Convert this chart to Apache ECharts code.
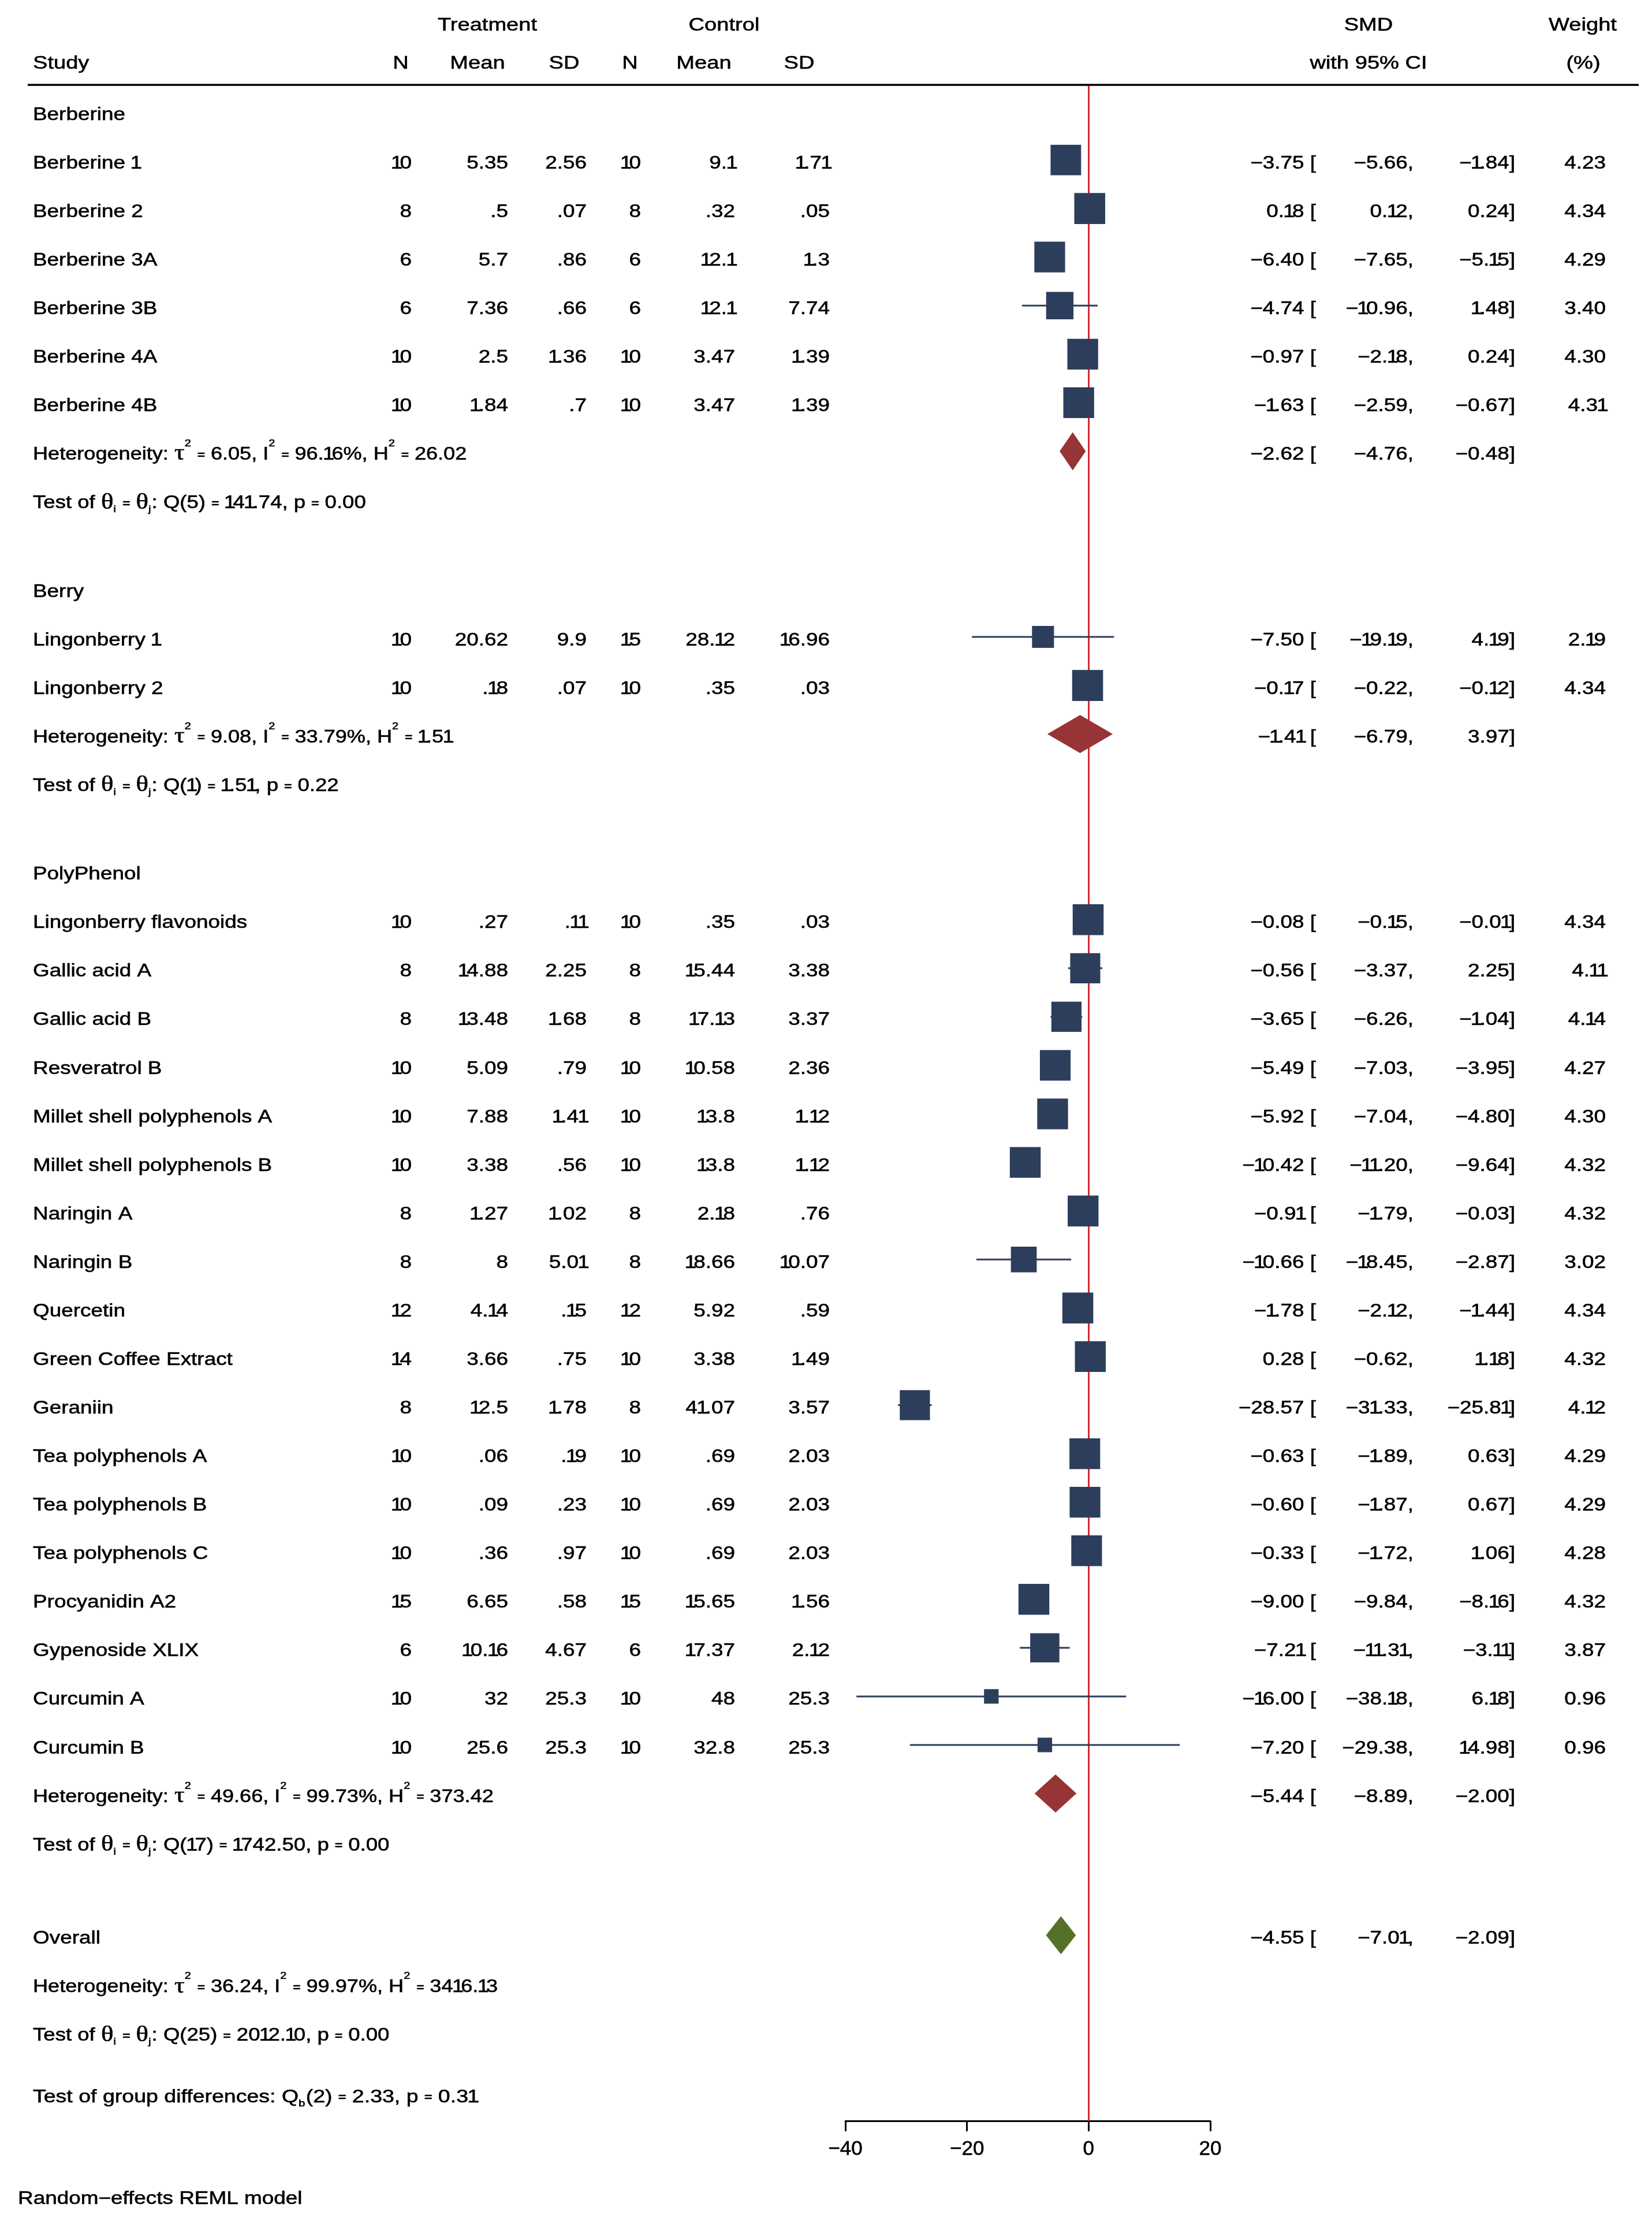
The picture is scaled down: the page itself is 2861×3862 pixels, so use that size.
<!DOCTYPE html>
<html><head><meta charset="utf-8">
<script src="https://cdn.jsdelivr.net/npm/echarts@6/dist/echarts.min.js"></script>
<style>html,body{margin:0;padding:0;background:#fff}#c{width:2861px;height:3862px}</style>
</head><body><div id="c"></div>
<script>
// ---------------- DATA ----------------
const groupNames = ['Berberine', 'Berry', 'PolyPhenol'];
const groupSizes = [6, 2, 18];
const studyNames = ['Berberine 1','Berberine 2','Berberine 3A','Berberine 3B','Berberine 4A','Berberine 4B',
  'Lingonberry 1','Lingonberry 2',
  'Lingonberry flavonoids','Gallic acid A','Gallic acid B','Resveratrol B','Millet shell polyphenols A',
  'Millet shell polyphenols B','Naringin A','Naringin B','Quercetin','Green Coffee Extract','Geraniin',
  'Tea polyphenols A','Tea polyphenols B','Tea polyphenols C','Procyanidin A2','Gypenoside XLIX','Curcumin A','Curcumin B'];
const nT    = [10,8,6,6,10,10, 10,10, 10,8,8,10,10,10,8,8,12,14,8,10,10,10,15,6,10,10];
const meanT = [5.35,0.5,5.7,7.36,2.5,1.84, 20.62,0.18, 0.27,14.88,13.48,5.09,7.88,3.38,1.27,8,4.14,3.66,12.5,0.06,0.09,0.36,6.65,10.16,32,25.6];
const sdT   = [2.56,0.07,0.86,0.66,1.36,0.7, 9.9,0.07, 0.11,2.25,1.68,0.79,1.41,0.56,1.02,5.01,0.15,0.75,1.78,0.19,0.23,0.97,0.58,4.67,25.3,25.3];
const nC    = [10,8,6,6,10,10, 15,10, 10,8,8,10,10,10,8,8,12,10,8,10,10,10,15,6,10,10];
const meanC = [9.1,0.32,12.1,12.1,3.47,3.47, 28.12,0.35, 0.35,15.44,17.13,10.58,13.8,13.8,2.18,18.66,5.92,3.38,41.07,0.69,0.69,0.69,15.65,17.37,48,32.8];
const sdC   = [1.71,0.05,1.3,7.74,1.39,1.39, 16.96,0.03, 0.03,3.38,3.37,2.36,1.12,1.12,0.76,10.07,0.59,1.49,3.57,2.03,2.03,2.03,1.56,2.12,25.3,25.3];
const smd   = [-3.75,0.18,-6.40,-4.74,-0.97,-1.63, -7.50,-0.17, -0.08,-0.56,-3.65,-5.49,-5.92,-10.42,-0.91,-10.66,-1.78,0.28,-28.57,-0.63,-0.60,-0.33,-9.00,-7.21,-16.00,-7.20];
const ciLo  = [-5.66,0.12,-7.65,-10.96,-2.18,-2.59, -19.19,-0.22, -0.15,-3.37,-6.26,-7.03,-7.04,-11.20,-1.79,-18.45,-2.12,-0.62,-31.33,-1.89,-1.87,-1.72,-9.84,-11.31,-38.18,-29.38];
const ciHi  = [-1.84,0.24,-5.15,1.48,0.24,-0.67, 4.19,-0.12, -0.01,2.25,-1.04,-3.95,-4.80,-9.64,-0.03,-2.87,-1.44,1.18,-25.81,0.63,0.67,1.06,-8.16,-3.11,6.18,14.98];
const weight= [4.23,4.34,4.29,3.40,4.30,4.31, 2.19,4.34, 4.34,4.11,4.14,4.27,4.30,4.32,4.32,3.02,4.34,4.32,4.12,4.29,4.29,4.28,4.32,3.87,0.96,0.96];

const groupSmd = [-2.62, -1.41, -5.44];
const groupLo  = [-4.76, -6.79, -8.89];
const groupHi  = [-0.48, 3.97, -2.00];
const groupTau2 = ['6.05', '9.08', '49.66'];
const groupI2   = ['96.16', '33.79', '99.73'];
const groupH2   = ['26.02', '1.51', '373.42'];
const groupQdf  = ['5', '1', '17'];
const groupQ    = ['141.74', '1.51', '1742.50'];
const groupP    = ['0.00', '0.22', '0.00'];

const overallSmd = -4.55, overallLo = -7.01, overallHi = -2.09;
const overallTau2 = '36.24', overallI2 = '99.97', overallH2 = '3416.13';
const overallQdf = '25', overallQ = '2012.10', overallP = '0.00';
const diffQbdf = '2', diffQb = '2.33', diffP = '0.31';

const xTicks = [-40, -20, 0, 20];

// ---------------- STYLE / LAYOUT ----------------
const FONT = '"Liberation Sans", Arial, Helvetica, sans-serif';
const GREEK = '"Liberation Serif", "DejaVu Serif", serif';
const BODY = 31, HEAD = 32, SMALL = 17;
const SX = 1.19, SX_HET = 1.165, SX_TEST = 1.18, SX_GDIFF = 1.21;
const NAVY = '#2d3e5c', MAROON = '#963436', GREEN = '#577028', RED = '#d42a36';
const ROW_PX = 84.07, FIRST_ROW_Y = 199, GRID_TOP = 147, AXIS_Y = 3673;
const GROUP_GAP = 1.825, OVERALL_GAP = 1.92, GDIFF_GAP = 1.265, NOTE_GAP = 2.1;
const MARK_DY = -6;
const SQ_K = 25.7;
const DIAMOND_H = 66;
const TEXT_STROKE = 0.6;
const NARROW = {'1': {adv: 0.38, dx: -0.045}};   // Stata's narrow digit one
const COL = {name: 57, nT: 713, meanT: 880, sdT: 1016, nC: 1110, meanC: 1273, sdC: 1437,
  est: 2279, lo: 2448, hi: 2624, w: 2781, note: 31};
const HDR = {treat: 844, ctrl: 1254, N1: 694, M1: 827, S1: 977, N2: 1091, M2: 1219, S2: 1384, smd: 2370, wt: 2741, pct: 2742};
const HDR_Y = [44, 110];

// ---------------- helpers ----------------
const mctx = document.createElement('canvas').getContext('2d');
function fontStr(size, fam, bold) { return (bold ? 'bold ' : '') + size + 'px ' + (fam || FONT); }
function tw(t, font) { mctx.font = font; return mctx.measureText(t).width; }
const minus = s => s.replace(/-/g, '\u2212');
const fmtRaw = v => { let s = String(v); if (s.startsWith('0.')) s = s.slice(1); return s; };
const f2 = v => minus(v.toFixed(2));

function tstyle(t, font) {
  return {text: t, fill: '#000', stroke: '#000', lineWidth: TEXT_STROKE, font: font,
          align: 'left', verticalAlign: 'middle', textAlign: 'left', textVerticalAlign: 'middle'};
}
function segs(t, font, size) {
  const items = []; let cx = 0, buf = '';
  const flush = () => { if (buf) { items.push({t: buf, x: cx}); cx += tw(buf, font); buf = ''; } };
  for (const ch of t) {
    const sp = NARROW[ch];
    if (sp) { flush(); items.push({t: ch, x: cx + sp.dx * size}); cx += sp.adv * size; }
    else buf += ch;
  }
  flush();
  return {items: items, width: cx};
}
function txt(x, y, t, align, size) {
  size = size || BODY;
  const font = fontStr(size);
  const L = segs(t, font, size);
  const off = align === 'left' ? 0 : (align === 'right' ? -L.width : -L.width / 2);
  return {type: 'group', x: x, y: y, scaleX: SX,
    children: L.items.map(it => ({type: 'text', x: off + it.x, y: 0, style: tstyle(it.t, font)}))};
}
function run(x, y, parts, sx) {
  const children = [];
  let cx = 0;
  parts.forEach(p => {
    const t = p[0], k = p[1] || 'n';
    let font, dy = 0, size = BODY;
    if (k === 'g') { size = 38; font = fontStr(size, GREEK); dy = -1; }
    else if (k === 'sup') { size = SMALL; font = fontStr(size); dy = -19; }
    else if (k === 'sub') { size = SMALL; font = fontStr(size); dy = 11; }
    else if (k === 'eq') { size = 19; font = fontStr(size, FONT, true); dy = 1; }
    else { font = fontStr(size); }
    const L = (k === 'n') ? segs(t, font, size) : {items: [{t: t, x: 0}], width: tw(t, font)};
    L.items.forEach(it => children.push({type: 'text', x: cx + it.x, y: dy, style: tstyle(it.t, font)}));
    cx += L.width + (k === 'sup' || k === 'sub' ? 1 : 0);
  });
  return {type: 'group', x: x, y: y, scaleX: sx, children: children};
}
function eqSplit(s) {
  const out = [];
  s.split('=').forEach((seg, i) => {
    if (i > 0) out.push(['=', 'eq']);
    if (seg) out.push([seg]);
  });
  return out;
}
function hetParts(t2, i2, h2) {
  return [['Heterogeneity: '], ['\u03C4', 'g'], ['2', 'sup']]
    .concat(eqSplit(' = ' + t2 + ', I'), [['2', 'sup']], eqSplit(' = ' + i2 + '%, H'), [['2', 'sup']], eqSplit(' = ' + h2));
}
function testParts(df, q, p) {
  return [['Test of '], ['\u03B8', 'g'], ['i', 'sub']]
    .concat(eqSplit(' = '), [['\u03B8', 'g'], ['j', 'sub']], eqSplit(': Q(' + df + ') = ' + q + ', p = ' + p));
}

// ---------------- rows ----------------
const rows = [];
rows.push({kind: 'hdr1', u: (HDR_Y[0] - FIRST_ROW_Y) / ROW_PX});
rows.push({kind: 'hdr2', u: (HDR_Y[1] - FIRST_ROW_Y) / ROW_PX});
const studyU = [];
let u = 0, si = 0;
groupNames.forEach((g, gi) => {
  if (gi > 0) u += GROUP_GAP;
  rows.push({kind: 'group', u: u, gi: gi});
  for (let k = 0; k < groupSizes[gi]; k++) {
    u += 1; rows.push({kind: 'study', u: u, si: si}); studyU.push(u); si++;
  }
  u += 1; rows.push({kind: 'het', u: u, gi: gi});
  u += 1; rows.push({kind: 'test', u: u, gi: gi});
});
u += OVERALL_GAP; rows.push({kind: 'overall', u: u}); const overallU = u;
u += 1; rows.push({kind: 'ohet', u: u});
u += 1; rows.push({kind: 'otest', u: u});
u += GDIFF_GAP; rows.push({kind: 'gdiff', u: u});
u += NOTE_GAP; rows.push({kind: 'note', u: u});
const groupU = rows.filter(r => r.kind === 'het').map(r => r.u);

const yMin = (GRID_TOP - FIRST_ROW_Y) / ROW_PX;
const yMax = (AXIS_Y - FIRST_ROW_Y) / ROW_PX;

// ---------------- render ----------------
function renderText(params, api) {
  const r = rows[api.value(2)];
  const y = api.coord([0, r.u])[1];
  const c = [];
  const estCols = (e, l, h) => {
    c.push(txt(COL.est, y, f2(e) + ' [', 'right'));
    c.push(txt(COL.lo, y, f2(l) + ',', 'right'));
    c.push(txt(COL.hi, y, f2(h) + ']', 'right'));
  };
  switch (r.kind) {
    case 'hdr1':
      c.push(txt(HDR.treat, y, 'Treatment', 'center', HEAD));
      c.push(txt(HDR.ctrl, y, 'Control', 'center', HEAD));
      c.push(txt(HDR.smd, y, 'SMD', 'center', HEAD));
      c.push(txt(HDR.wt, y, 'Weight', 'center', HEAD));
      break;
    case 'hdr2':
      c.push(txt(COL.name, y, 'Study', 'left', HEAD));
      c.push(txt(HDR.N1, y, 'N', 'center', HEAD));
      c.push(txt(HDR.M1, y, 'Mean', 'center', HEAD));
      c.push(txt(HDR.S1, y, 'SD', 'center', HEAD));
      c.push(txt(HDR.N2, y, 'N', 'center', HEAD));
      c.push(txt(HDR.M2, y, 'Mean', 'center', HEAD));
      c.push(txt(HDR.S2, y, 'SD', 'center', HEAD));
      c.push(txt(HDR.smd, y, 'with 95% CI', 'center', HEAD));
      c.push(txt(HDR.pct, y, '(%)', 'center', HEAD));
      break;
    case 'group':
      c.push(txt(COL.name, y, groupNames[r.gi], 'left'));
      break;
    case 'study': {
      const i = r.si;
      c.push(txt(COL.name, y, studyNames[i], 'left'));
      c.push(txt(COL.nT, y, fmtRaw(nT[i]), 'right'));
      c.push(txt(COL.meanT, y, fmtRaw(meanT[i]), 'right'));
      c.push(txt(COL.sdT, y, fmtRaw(sdT[i]), 'right'));
      c.push(txt(COL.nC, y, fmtRaw(nC[i]), 'right'));
      c.push(txt(COL.meanC, y, fmtRaw(meanC[i]), 'right'));
      c.push(txt(COL.sdC, y, fmtRaw(sdC[i]), 'right'));
      estCols(smd[i], ciLo[i], ciHi[i]);
      c.push(txt(COL.w, y, weight[i].toFixed(2), 'right'));
      break; }
    case 'het':
      c.push(run(COL.name, y, hetParts(groupTau2[r.gi], groupI2[r.gi], groupH2[r.gi]), SX_HET));
      estCols(groupSmd[r.gi], groupLo[r.gi], groupHi[r.gi]);
      break;
    case 'test':
      c.push(run(COL.name, y, testParts(groupQdf[r.gi], groupQ[r.gi], groupP[r.gi]), SX_TEST));
      break;
    case 'overall':
      c.push(txt(COL.name, y, 'Overall', 'left'));
      estCols(overallSmd, overallLo, overallHi);
      break;
    case 'ohet':
      c.push(run(COL.name, y, hetParts(overallTau2, overallI2, overallH2), SX_HET));
      break;
    case 'otest':
      c.push(run(COL.name, y, testParts(overallQdf, overallQ, overallP), SX_TEST));
      break;
    case 'gdiff':
      c.push(run(COL.name, y, [['Test of group differences: Q'], ['b', 'sub']]
        .concat(eqSplit('(' + diffQbdf + ') = ' + diffQb + ', p = ' + diffP)), SX_GDIFF));
      break;
    case 'note':
      c.push(txt(COL.note, y, 'Random\u2212effects REML model', 'left'));
      break;
  }
  return {type: 'group', children: c};
}

function renderStudy(params, api) {
  const i = api.value(2);
  const uu = api.value(1);
  const pe = api.coord([api.value(0), uu]);
  const y = pe[1] + MARK_DY;
  const xl = api.coord([ciLo[i], uu])[0];
  const xh = api.coord([ciHi[i], uu])[0];
  const s = SQ_K * Math.sqrt(weight[i]);
  return {type: 'group', children: [
    {type: 'line', shape: {x1: xl, y1: y, x2: xh, y2: y}, style: {stroke: NAVY, lineWidth: 3}},
    {type: 'rect', shape: {x: pe[0] - s / 2, y: y - s / 2, width: s, height: s}, style: {fill: NAVY}}
  ]};
}

function renderDiamond(params, api) {
  const k = api.value(2);
  const uu = api.value(1);
  const est = api.value(0);
  const lo = k < 3 ? groupLo[k] : overallLo;
  const hi = k < 3 ? groupHi[k] : overallHi;
  const pe = api.coord([est, uu]);
  const y = pe[1] + MARK_DY;
  const xl = api.coord([lo, uu])[0];
  const xh = api.coord([hi, uu])[0];
  const h = DIAMOND_H / 2;
  return {type: 'polygon', shape: {points: [[xl, y], [pe[0], y - h], [xh, y], [pe[0], y + h]]},
    style: {fill: k < 3 ? MAROON : GREEN}};
}

const chart = echarts.init(document.getElementById('c'), null, {renderer: 'canvas'});
const option = {
  animation: false,
  backgroundColor: '#fff',
  grid: {left: 1464, width: 632, top: GRID_TOP, height: AXIS_Y - GRID_TOP, outerBoundsMode: 'none', containLabel: false},
  xAxis: {
    type: 'value', min: xTicks[0], max: xTicks[xTicks.length - 1], interval: xTicks[1] - xTicks[0],
    axisLine: {show: true, onZero: false, lineStyle: {color: '#000', width: 3}},
    axisTick: {show: true, length: 18, lineStyle: {color: '#000', width: 3}},
    axisLabel: {margin: 32, fontSize: 35, fontFamily: FONT, color: '#000', textBorderColor: '#000', textBorderWidth: 0.6,
      formatter: v => minus(String(v))},
    splitLine: {show: false}
  },
  yAxis: {type: 'value', inverse: true, min: yMin, max: yMax, show: false},
  graphic: [{type: 'line', shape: {x1: 48, y1: GRID_TOP, x2: 2838, y2: GRID_TOP}, style: {stroke: '#000', lineWidth: 3.5}, z: 20}],
  series: [
    {type: 'custom', name: 'zero', z: 1, data: [], renderItem: () => null,
     markLine: {silent: true, symbol: ['none', 'none'], z: 1, label: {show: false},
       lineStyle: {color: RED, width: 3, type: 'solid'}, emphasis: {disabled: true},
       data: [{xAxis: 0}]}},
    {type: 'custom', name: 'text', z: 10, silent: true, clip: false,
     data: rows.map((r, i) => [0, r.u, i]), renderItem: renderText},
    {type: 'custom', name: 'studies', z: 10, silent: true, clip: false,
     data: studyNames.map((n, i) => [smd[i], studyU[i], i]), renderItem: renderStudy},
    {type: 'custom', name: 'pooled', z: 10, silent: true, clip: false,
     data: groupSmd.map((v, k) => [v, groupU[k], k]).concat([[overallSmd, overallU, 3]]), renderItem: renderDiamond}
  ]
};
chart.setOption(option);
</script>
</body></html>
